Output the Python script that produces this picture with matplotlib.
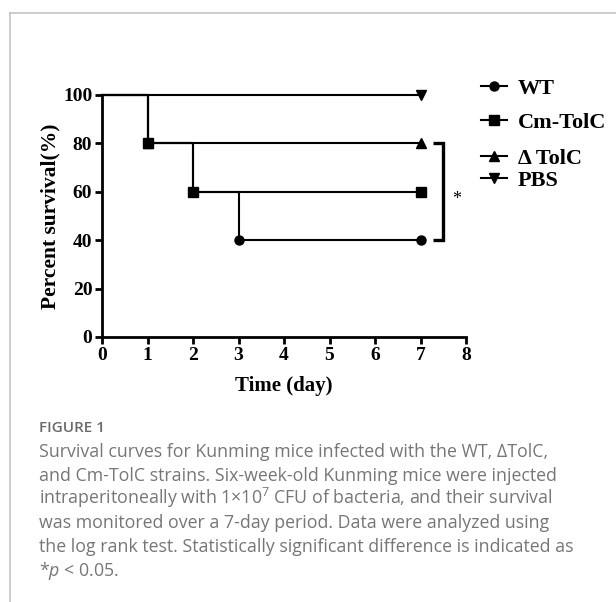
import matplotlib
matplotlib.use("Agg")
import matplotlib.pyplot as plt
from matplotlib.lines import Line2D

# ---- data ----
groups = ["WT", "Cm-TolC", "\u0394 TolC", "PBS"]
wt_days = [0, 1, 2, 3, 7]
wt_surv = [100, 80, 60, 40, 40]
cm_days = [0, 1, 2, 7]
cm_surv = [100, 80, 60, 60]
dt_days = [0, 1, 7]
dt_surv = [100, 80, 80]
pbs_days = [0, 7]
pbs_surv = [100, 100]
x_ticks = [0, 1, 2, 3, 4, 5, 6, 7, 8]
y_ticks = [0, 20, 40, 60, 80, 100]
sig_label = "*"

caption_title = "FIGURE 1"
caption_lines = [
    "Survival curves for Kunming mice infected with the WT, \u0394TolC,",
    "and Cm-TolC strains. Six-week-old Kunming mice were injected",
    "intraperitoneally with 1\u00d710$^{7}$ CFU of bacteria, and their survival",
    "was monitored over a 7-day period. Data were analyzed using",
    "the log rank test. Statistically significant difference is indicated as",
    "*$\\mathit{p}$ < 0.05.",
]

plt.rcParams["mathtext.fontset"] = "custom"
plt.rcParams["mathtext.rm"] = "Open Sans"
plt.rcParams["mathtext.it"] = "Open Sans:italic"

W, H = 616, 602
fig = plt.figure(figsize=(W / 100, H / 100), dpi=100)

# page border (light gray)
fig.add_artist(Line2D([10 / W, 10 / W], [0, 1 - 13 / H], color="#c4c4c4", lw=1.2))
fig.add_artist(Line2D([10 / W, 1], [1 - 13 / H, 1 - 13 / H], color="#c4c4c4", lw=1.2))

ax = fig.add_axes([102 / W, 1 - 337 / H, 364 / W, 242 / H])

serif = "Liberation Serif"
lw = 1.5
ms = 6.5
series = [
    (wt_days, wt_surv, "o", groups[0]),
    (dt_days, dt_surv, "^", groups[2]),
    (cm_days, cm_surv, "s", groups[1]),
    (pbs_days, pbs_surv, "v", groups[3]),
]
handles = {}
for i, (d, s, m, lab) in enumerate(series):
    ln, = ax.plot(d, s, drawstyle="steps-post", color="black", lw=lw,
                  marker=m, markersize=ms, markevery=slice(1, None),
                  clip_on=False, zorder=3 + i, label=lab)
    handles[lab] = ln

ax.set_xlim(0, 8)
ax.set_ylim(0, 100)
ax.set_xticks(x_ticks)
ax.set_yticks(y_ticks)
ax.spines["top"].set_visible(False)
ax.spines["right"].set_visible(False)
for sp in ("left", "bottom"):
    ax.spines[sp].set_linewidth(2)
ax.tick_params(direction="out", length=5, width=2, pad=2)
for t in ax.get_xticklabels() + ax.get_yticklabels():
    t.set_fontfamily(serif)
    t.set_fontweight("bold")
    t.set_fontsize(14)
ax.set_xlabel("Time (day)", fontfamily=serif, fontweight="bold", fontsize=15, labelpad=9)
ax.set_ylabel("Percent survival(%)", fontfamily=serif, fontweight="bold", fontsize=15.5, labelpad=2)

# significance bracket
bx0, bx1 = 7.27, 7.49
ax.plot([bx0, bx1, bx1, bx0], [dt_surv[-1], dt_surv[-1], wt_surv[-1], wt_surv[-1]],
        color="black", lw=2.4, clip_on=False, solid_capstyle="butt", solid_joinstyle="miter")
ax.text(7.8, 57, sig_label, fontfamily=serif, fontsize=13, ha="center", va="center")

# legends
lkw = dict(frameon=False, prop={"family": serif, "weight": "bold", "size": 16},
           handlelength=1.15, handletextpad=0.5, borderpad=0, borderaxespad=0,
           bbox_transform=fig.transFigure, loc="center left")
leg1 = fig.legend([handles[groups[0]], handles[groups[1]]], [groups[0], groups[1]],
                  bbox_to_anchor=(481 / W, 1 - 105.5 / H), labelspacing=0.62, **lkw)
leg2 = fig.legend([handles[groups[2]], handles[groups[3]]], [groups[2], groups[3]],
                  bbox_to_anchor=(481 / W, 1 - 169.5 / H), labelspacing=0.08, **lkw)

# caption
fig.text(39 / W, 1 - 428 / H, caption_title, fontfamily="Open Sans", fontsize=11,
         fontweight="semibold", color="#6a6a6a", va="center", ha="left")
for k, line in enumerate(caption_lines):
    fig.text(39 / W, 1 - (457 + k * 23.7) / H, line, fontfamily="Open Sans",
             fontsize=12.8, color="#767676", va="baseline", ha="left")

fig.savefig("out.png", dpi=100)
